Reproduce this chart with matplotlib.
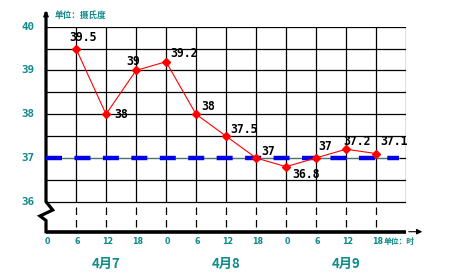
import matplotlib.pyplot as plt
import numpy as np

# 数据
hours = [6, 12, 18, 24, 30, 36, 42, 48, 54, 60, 66]
temps = [39.5, 38, 39, 39.2, 38, 37.5, 37, 36.8, 37, 37.2, 37.1]
temp_labels = ["39.5", "38", "39", "39.2", "38", "37.5", "37", "36.8", "37", "37.2", "37.1"]
tick_hours = [0, 6, 12, 18, 24, 30, 36, 42, 48, 54, 60, 66]
tick_labels = ["0", "6", "12", "18", "0", "6", "12", "18", "0", "6", "12", "18"]
y_ticks = [36, 37, 38, 39, 40]
dates = ["4月7", "4月8", "4月9"]
date_hours = [12, 36, 60]
normal_temp = 37

# 标签偏移 (像素)
offsets = [(7, 11), (15, 0), (-2.5, 9), (18.5, 8), (12.5, 8), (18, 6.5),
           (12, 6), (20.5, -7.5), (9.5, 11), (11.5, 8), (18.5, 12)]

W, H = 469, 276
teal = "#108a8a"
ppd = 43.75  # 每度像素
y_bot = 36 - 30 / ppd

fig = plt.figure(figsize=(W / 100, H / 100), dpi=100)
ax = fig.add_axes([46 / W, 1 - 231.7 / H, 360 / W, 205 / H])
ax.set_xlim(0, 72)
ax.set_ylim(y_bot, 40)
ax.axis("off")

px = lambda p: (p - 46) * 0.2
py = lambda p: 40 - (p - 26.7) / ppd

# 网格
ax.hlines(np.arange(36, 40.01, 0.5), 0, 72, color="black", lw=0.9)
ax.vlines(tick_hours[1:] + [72], 36, 40, color="black", lw=0.9)
ax.vlines(tick_hours[1:], 35.43, 35.98, color="black", lw=0.9,
          linestyles=(0, (6, 4)))

# 37度线
ax.plot([0, 70.5], [normal_temp, normal_temp], color="#60b0b0", lw=0.5, zorder=2)
ax.plot([0, 70.5], [normal_temp, normal_temp], color="#0000e6", lw=3.2,
        dashes=(3.6, 2.8), solid_capstyle="butt", zorder=3)

# 左轴 (带折断)
ax.plot([0, 0, px(52.7), px(40), 0, 0],
        [40.3, 36, py(210), py(216), py(220.5), y_bot],
        color="black", lw=2.3, clip_on=False, solid_joinstyle="miter")
ax.annotate("", xy=(0, py(8)), xytext=(0, 40.2),
            arrowprops=dict(arrowstyle="-|>", color="black", lw=1, mutation_scale=8),
            annotation_clip=False)
# 底轴
ax.plot([0, 72], [y_bot, y_bot], color="black", lw=2.6, clip_on=False,
        solid_capstyle="butt")
ax.annotate("", xy=(px(425), y_bot), xytext=(72, y_bot),
            arrowprops=dict(arrowstyle="-|>", color="black", lw=0.8, mutation_scale=8),
            annotation_clip=False)

# 温度曲线
ax.plot(hours, temps, color="red", lw=0.8, marker="D", ms=4.2, zorder=5, clip_on=False)
for h, t, s, (dx, dy) in zip(hours, temps, temp_labels, offsets):
    ax.annotate(s, (h, t), xytext=(dx, dy), textcoords="offset pixels",
                ha="center", va="center", fontsize=8.3, fontweight="bold",
                family="DejaVu Sans Mono", color="black", zorder=6)

# 刻度文字
for y in y_ticks:
    ax.text(px(34), y, str(y), ha="right", va="center", fontsize=7.8,
            fontweight="bold", family="DejaVu Sans Mono", color=teal,
            clip_on=False)
for h, s in zip(tick_hours, tick_labels):
    ax.text(h + 0.3, py(241.7), s, ha="center", va="center", fontsize=5.8,
            fontweight="bold", color=teal)
cjk = ["Noto Sans CJK SC", "DejaVu Sans"]
ax.text(px(384), py(241.7), "单位：时", ha="left", va="center", fontsize=5.6,
        fontweight="bold", color=teal, family=cjk)
ax.text(px(55), py(15), "单位：摄氏度", ha="left", va="center", fontsize=6.2,
        fontweight="bold", color=teal, family=cjk)
for h, d in zip(date_hours, dates):
    ax.text(h, py(264), d, ha="center", va="center", fontsize=9.5,
            fontweight="bold", color=teal, family=cjk)

fig.savefig("out.png", dpi=100, facecolor="white")
